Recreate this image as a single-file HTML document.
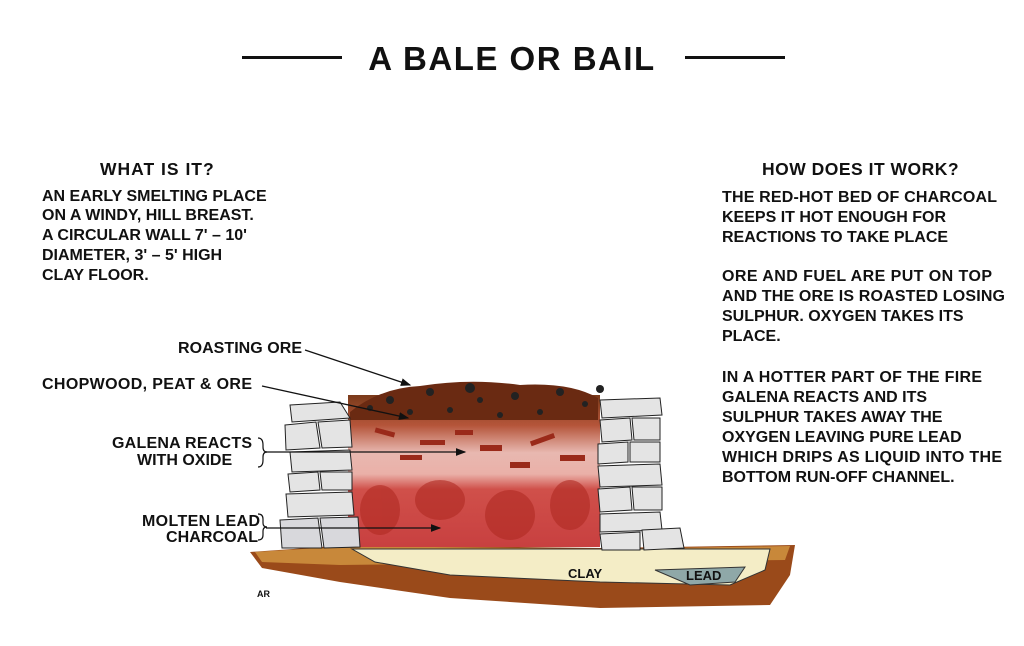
<!DOCTYPE html>
<html><head><style>
html,body{margin:0;padding:0;background:#fff;}
svg{display:block;}
text{font-family:"Liberation Sans",Arial,sans-serif;font-weight:bold;fill:#111;}
</style></head><body>
<svg width="1024" height="646" viewBox="0 0 1024 646" xmlns="http://www.w3.org/2000/svg">
<defs>
<marker id="ah" markerWidth="8" markerHeight="8" refX="7" refY="4" orient="auto"><path d="M0,1 L8,4 L0,7 z" fill="#111"/></marker>
<linearGradient id="fire" x1="0" y1="0" x2="0" y2="1">
<stop offset="0" stop-color="#7a3a1a"/><stop offset="0.2" stop-color="#b5553a"/><stop offset="0.38" stop-color="#e8b8b0"/><stop offset="0.52" stop-color="#eab0a8"/><stop offset="0.62" stop-color="#d0504a"/><stop offset="1" stop-color="#c84040"/>
</linearGradient>
</defs>
<rect x="242" y="56" width="100" height="3" fill="#111"/>
<rect x="685" y="56" width="100" height="3" fill="#111"/>
<text x="512" y="70" font-size="33" text-anchor="middle" letter-spacing="1.5">A  BALE  OR  BAIL</text>
<g font-size="16">
<text x="100" y="175" font-size="17.5" letter-spacing="1">WHAT IS IT?</text>
<text x="42" y="201">AN EARLY SMELTING PLACE</text>
<text x="42" y="220">ON A WINDY, HILL BREAST.</text>
<text x="42" y="240">A CIRCULAR WALL 7' – 10'</text>
<text x="42" y="260">DIAMETER,  3' – 5' HIGH</text>
<text x="42" y="280">CLAY FLOOR.</text>
<text x="762" y="175" font-size="17.5" letter-spacing="0.5">HOW DOES IT WORK?</text>
<text x="722" y="202" textLength="275">THE RED-HOT BED OF CHARCOAL</text>
<text x="722" y="222">KEEPS IT HOT ENOUGH FOR</text>
<text x="722" y="242">REACTIONS TO TAKE PLACE</text>
<text x="722" y="281" textLength="270">ORE AND FUEL ARE PUT ON TOP</text>
<text x="722" y="301" textLength="283">AND THE ORE IS ROASTED LOSING</text>
<text x="722" y="321">SULPHUR.  OXYGEN TAKES ITS</text>
<text x="722" y="341">PLACE.</text>
<text x="722" y="382" textLength="260">IN A HOTTER PART OF THE FIRE</text>
<text x="722" y="402">GALENA REACTS AND ITS</text>
<text x="722" y="422">SULPHUR TAKES AWAY THE</text>
<text x="722" y="442">OXYGEN LEAVING PURE LEAD</text>
<text x="722" y="462" textLength="280">WHICH DRIPS AS LIQUID INTO THE</text>
<text x="722" y="482">BOTTOM RUN-OFF CHANNEL.</text>
<text x="178" y="353" textLength="124">ROASTING ORE</text>
<text x="42" y="389" textLength="210">CHOPWOOD, PEAT &amp; ORE</text>
<text x="112" y="448" textLength="140">GALENA REACTS</text>
<text x="137" y="465">WITH OXIDE</text>
<text x="142" y="526" textLength="118">MOLTEN LEAD</text>
<text x="166" y="542" textLength="92">CHARCOAL</text>
</g>
<path d="M250,552 L350,545 L600,548 L795,545 L790,575 L770,605 L600,608 L450,598 L340,582 L262,568 Z" fill="#9a4a1a"/>
<path d="M255,552 L350,546 L600,549 L790,546 L785,560 L340,565 L262,562Z" fill="#c8883a"/>
<path d="M352,549 L770,549 L765,570 L730,585 L600,582 L450,575 L375,562 Z" fill="#f4edc6" stroke="#333" stroke-width="1"/>
<path d="M655,570 L745,567 L735,582 L690,585 Z" fill="#8fa8a8" stroke="#333" stroke-width="1"/>
<text x="568" y="578" font-size="13" font-weight="normal">CLAY</text>
<text x="686" y="580" font-size="13" font-weight="normal">LEAD</text>
<text x="257" y="597" font-size="9">AR</text>
<rect x="348" y="395" width="252" height="152" fill="url(#fire)"/>
<g fill="#b02a22" opacity="0.6">
<ellipse cx="380" cy="510" rx="20" ry="25"/><ellipse cx="440" cy="500" rx="25" ry="20"/><ellipse cx="510" cy="515" rx="25" ry="25"/><ellipse cx="570" cy="505" rx="20" ry="25"/>
</g>
<path d="M350,412 Q380,388 420,386 Q470,378 520,385 Q570,382 598,398 L598,420 L350,420Z" fill="#6a2a12"/>
<g fill="#222">
<circle cx="390" cy="400" r="4"/><circle cx="430" cy="392" r="4"/><circle cx="470" cy="388" r="5"/><circle cx="515" cy="396" r="4"/><circle cx="560" cy="392" r="4"/><circle cx="585" cy="404" r="3"/><circle cx="370" cy="408" r="3"/><circle cx="450" cy="410" r="3"/><circle cx="500" cy="415" r="3"/><circle cx="540" cy="412" r="3"/><circle cx="410" cy="412" r="3"/><circle cx="480" cy="400" r="3"/><circle cx="600" cy="389" r="4"/>
</g>
<g fill="#9a2a1a">
<rect x="375" y="430" width="20" height="5" transform="rotate(15 385 432)"/><rect x="420" y="440" width="25" height="5"/><rect x="480" y="445" width="22" height="6"/><rect x="530" y="438" width="25" height="5" transform="rotate(-20 540 440)"/><rect x="560" y="455" width="25" height="6"/><rect x="455" y="430" width="18" height="5"/><rect x="400" y="455" width="22" height="5"/><rect x="510" y="462" width="20" height="6"/>
</g>
<g fill="#e4e4e4" stroke="#222" stroke-width="1">
<path d="M290,405 L340,402 L350,418 L292,422Z"/>
<path d="M285,425 L316,422 L320,448 L286,450Z"/><path d="M318,422 L350,420 L352,447 L322,448Z"/>
<path d="M290,452 L350,450 L352,470 L292,472Z"/>
<path d="M288,474 L318,472 L320,490 L290,492Z"/><path d="M320,472 L352,472 L352,490 L322,490Z"/>
<path d="M286,494 L352,492 L354,515 L288,517Z"/>
<path d="M280,520 L318,518 L322,548 L282,548Z" fill="#d8d8dc"/><path d="M320,518 L358,517 L360,547 L324,548Z" fill="#d8d8dc"/>
<path d="M600,400 L660,398 L662,415 L602,418Z"/>
<path d="M600,420 L630,418 L632,440 L602,442Z"/><path d="M632,418 L660,418 L660,440 L634,440Z"/>
<path d="M598,444 L628,442 L628,462 L598,464Z"/><path d="M630,442 L660,442 L660,462 L630,462Z"/>
<path d="M598,466 L660,464 L662,485 L600,487Z"/>
<path d="M598,489 L630,487 L632,510 L600,512Z"/><path d="M632,487 L662,487 L662,510 L634,510Z"/>
<path d="M600,514 L660,512 L662,530 L600,532Z"/>
<path d="M600,534 L640,532 L640,550 L602,550Z"/><path d="M642,530 L680,528 L684,548 L644,550Z"/>
</g>
<g stroke="#111" stroke-width="1.3" fill="none" marker-end="url(#ah)">
<line x1="305" y1="350" x2="410" y2="385"/>
<line x1="262" y1="386" x2="408" y2="418"/>
<line x1="266" y1="452" x2="465" y2="452"/>
<line x1="266" y1="528" x2="440" y2="528"/>
</g>
<g stroke="#111" stroke-width="1.2" fill="none">
<path d="M258,438 q5,0 5,7 v2 q0,5 4,5 q-4,0 -4,5 v3 q0,7 -5,7"/>
<path d="M258,514 q5,0 5,5 v4 q0,4 4,4 q-4,0 -4,4 v4 q0,5 -5,5"/>
</g>
</svg>
</body></html>
